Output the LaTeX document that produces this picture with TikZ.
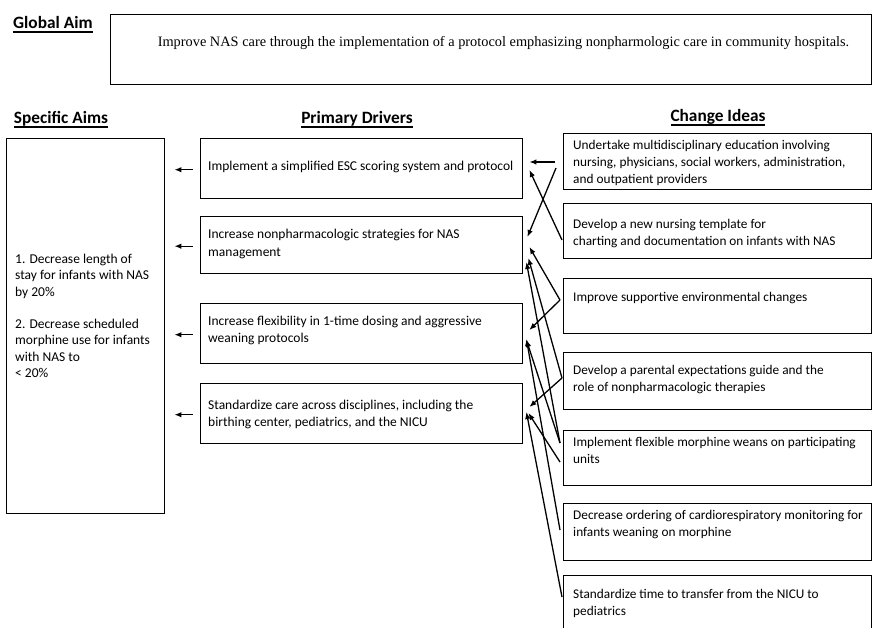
\documentclass[tikz,border=0pt]{standalone}
\usepackage{fontspec}
\setmainfont{Carlito}
\newfontfamily\glserif{Liberation Serif}
\usetikzlibrary{arrows.meta,calc}
\newcommand\hul[1]{\setbox0\hbox{#1}\rlap{\rule[-4.6pt]{\wd0}{1.3pt}}\box0}
\tikzset{
  box/.style={draw, line width=1.4pt, rectangle, inner sep=0pt, anchor=north west},
  txt/.style={anchor=north west, align=left, inner sep=0pt, font=\fontsize{13.3}{16.8}\selectfont},
  dtxt/.style={anchor=north west, align=left, inner sep=0pt, font=\fontsize{13.5}{17.5}\selectfont},
  head/.style={anchor=base, inner sep=0pt, font=\fontsize{17.3}{19}\selectfont\bfseries},
  arr/.style={-{Latex[length=7pt,width=5.5pt]}, line width=1.3pt},
}
\begin{document}
\begin{tikzpicture}[x=1pt,y=-1pt]
\useasboundingbox (0,0) rectangle (873,627);
\clip (0,0) rectangle (873,627);
% headings
\node[head, anchor=base west] (hglobal) at (13,28) {\hul{Global Aim}};
\node[head] (hspec) at (61,123) {\hul{Specific Aims}};
\node[head] (hprim) at (357,123) {\hul{Primary Drivers}};
\node[head] (hchange) at (718,121) {\hul{Change Ideas}};
% global aim
\node[box, minimum width=761pt, minimum height=70pt] (gaim) at (110,14) {};
\node[inner sep=0pt, font=\glserif\fontsize{14.35}{16}\selectfont] (gtext) at (503.5,43) {Improve NAS care through the implementation of a protocol emphasizing nonpharmologic care in community hospitals.};
% specific aims
\node[box, minimum width=158pt, minimum height=375pt] (aims) at (6,138) {};
\node[dtxt, font=\fontsize{13.5}{16.5}\selectfont] (aimstext) at (15,253.5) {1. Decrease length of\\stay for infants with NAS\\by 20\%\\[15.5pt]2. Decrease scheduled\\morphine use for infants\\with NAS to\\< 20\%};
% drivers
\node[box, minimum width=322pt, minimum height=60pt] (d1) at (200,138) {};
\node[box, minimum width=322pt, minimum height=57pt] (d2) at (200,216) {};
\node[box, minimum width=322pt, minimum height=60pt] (d3) at (200,303) {};
\node[box, minimum width=322pt, minimum height=60pt] (d4) at (200,383) {};
\node[dtxt] (d1t) at (208,161) {Implement a simplified ESC scoring system and protocol};
\node[dtxt] (d2t) at (208,229) {Increase nonpharmacologic strategies for NAS\\management};
\node[dtxt] (d3t) at (208,315.5) {Increase flexibility in 1-time dosing and aggressive\\weaning protocols};
\node[dtxt] (d4t) at (208,399.5) {Standardize care across disciplines, including the\\birthing center, pediatrics, and the NICU};
% change ideas
\node[box, minimum width=308pt, minimum height=56pt] (c1) at (563,133) {};
\node[box, minimum width=308pt, minimum height=55pt] (c2) at (563,203) {};
\node[box, minimum width=308pt, minimum height=55pt] (c3) at (563,278) {};
\node[box, minimum width=308pt, minimum height=57pt] (c4) at (563,352) {};
\node[box, minimum width=308pt, minimum height=55pt] (c5) at (563,430) {};
\node[box, minimum width=308pt, minimum height=57pt] (c6) at (563,503) {};
\node[box, minimum width=308pt, minimum height=70pt] (c7) at (563,575) {};
\node[txt] (c1t) at (573,140.5) {Undertake multidisciplinary education involving\\nursing, physicians, social workers, administration,\\and outpatient providers};
\node[txt] (c2t) at (573,219.5) {Develop a new nursing template for\\charting and documentation on infants with NAS};
\node[txt] (c3t) at (573,292.5) {Improve supportive environmental changes};
\node[txt] (c4t) at (573,365.5) {Develop a parental expectations guide and the\\role of nonpharmacologic therapies};
\node[txt] (c5t) at (573,437.5) {Implement flexible morphine weans on participating\\units};
\node[txt] (c6t) at (573,510.5) {Decrease ordering of cardiorespiratory monitoring for\\infants weaning on morphine};
\node[txt] (c7t) at (573,589.5) {Standardize time to transfer from the NICU to\\pediatrics};
% drivers -> aims
\foreach \d in {d1,d2,d3,d4}
  \draw[arr] ($(\d.west)+(-7,1)$) -- ($(\d.west -| aims.east)+(9,1)$);
% change ideas -> drivers
\draw[arr] ($(c1.north west)+(-8,29)$) -- ($(d1.north east)+(6,24)$);
\draw[arr] ($(c1.north west)+(-7,35)$) -- ($(d2.north east)+(4,21)$);
\draw[arr] ($(c2.north west)+(-1,37)$) -- ($(d1.north east)+(6,32)$);
\draw[arr] ($(c3.north west)+(-3,22)$) -- ($(d2.north east)+(6,31)$);
\draw[arr] ($(c3.north west)+(-3,22)$) -- ($(d3.north east)+(6,27)$);
\draw[arr] ($(c4.north west)+(-1,26)$) -- ($(d2.north east)+(5,42)$);
\draw[arr] ($(c4.north west)+(-1,26)$) -- ($(d4.north east)+(6,24)$);
\draw[arr] ($(c5.north west)+(-3,13)$) -- ($(d2.north east)+(3,46)$);
\draw[arr] ($(c5.north west)+(-3,13)$) -- ($(d3.north east)+(3,37)$);
\draw[arr] ($(c5.north west)+(-3,32)$) -- ($(d4.north east)+(5,30)$);
\draw[arr] ($(c6.north west)+(-3,27)$) -- ($(d3.north east)+(3,36)$);
\draw[arr] ($(c7.north west)+(-1,22)$) -- ($(d4.north east)+(3,29)$);
\end{tikzpicture}
\end{document}
